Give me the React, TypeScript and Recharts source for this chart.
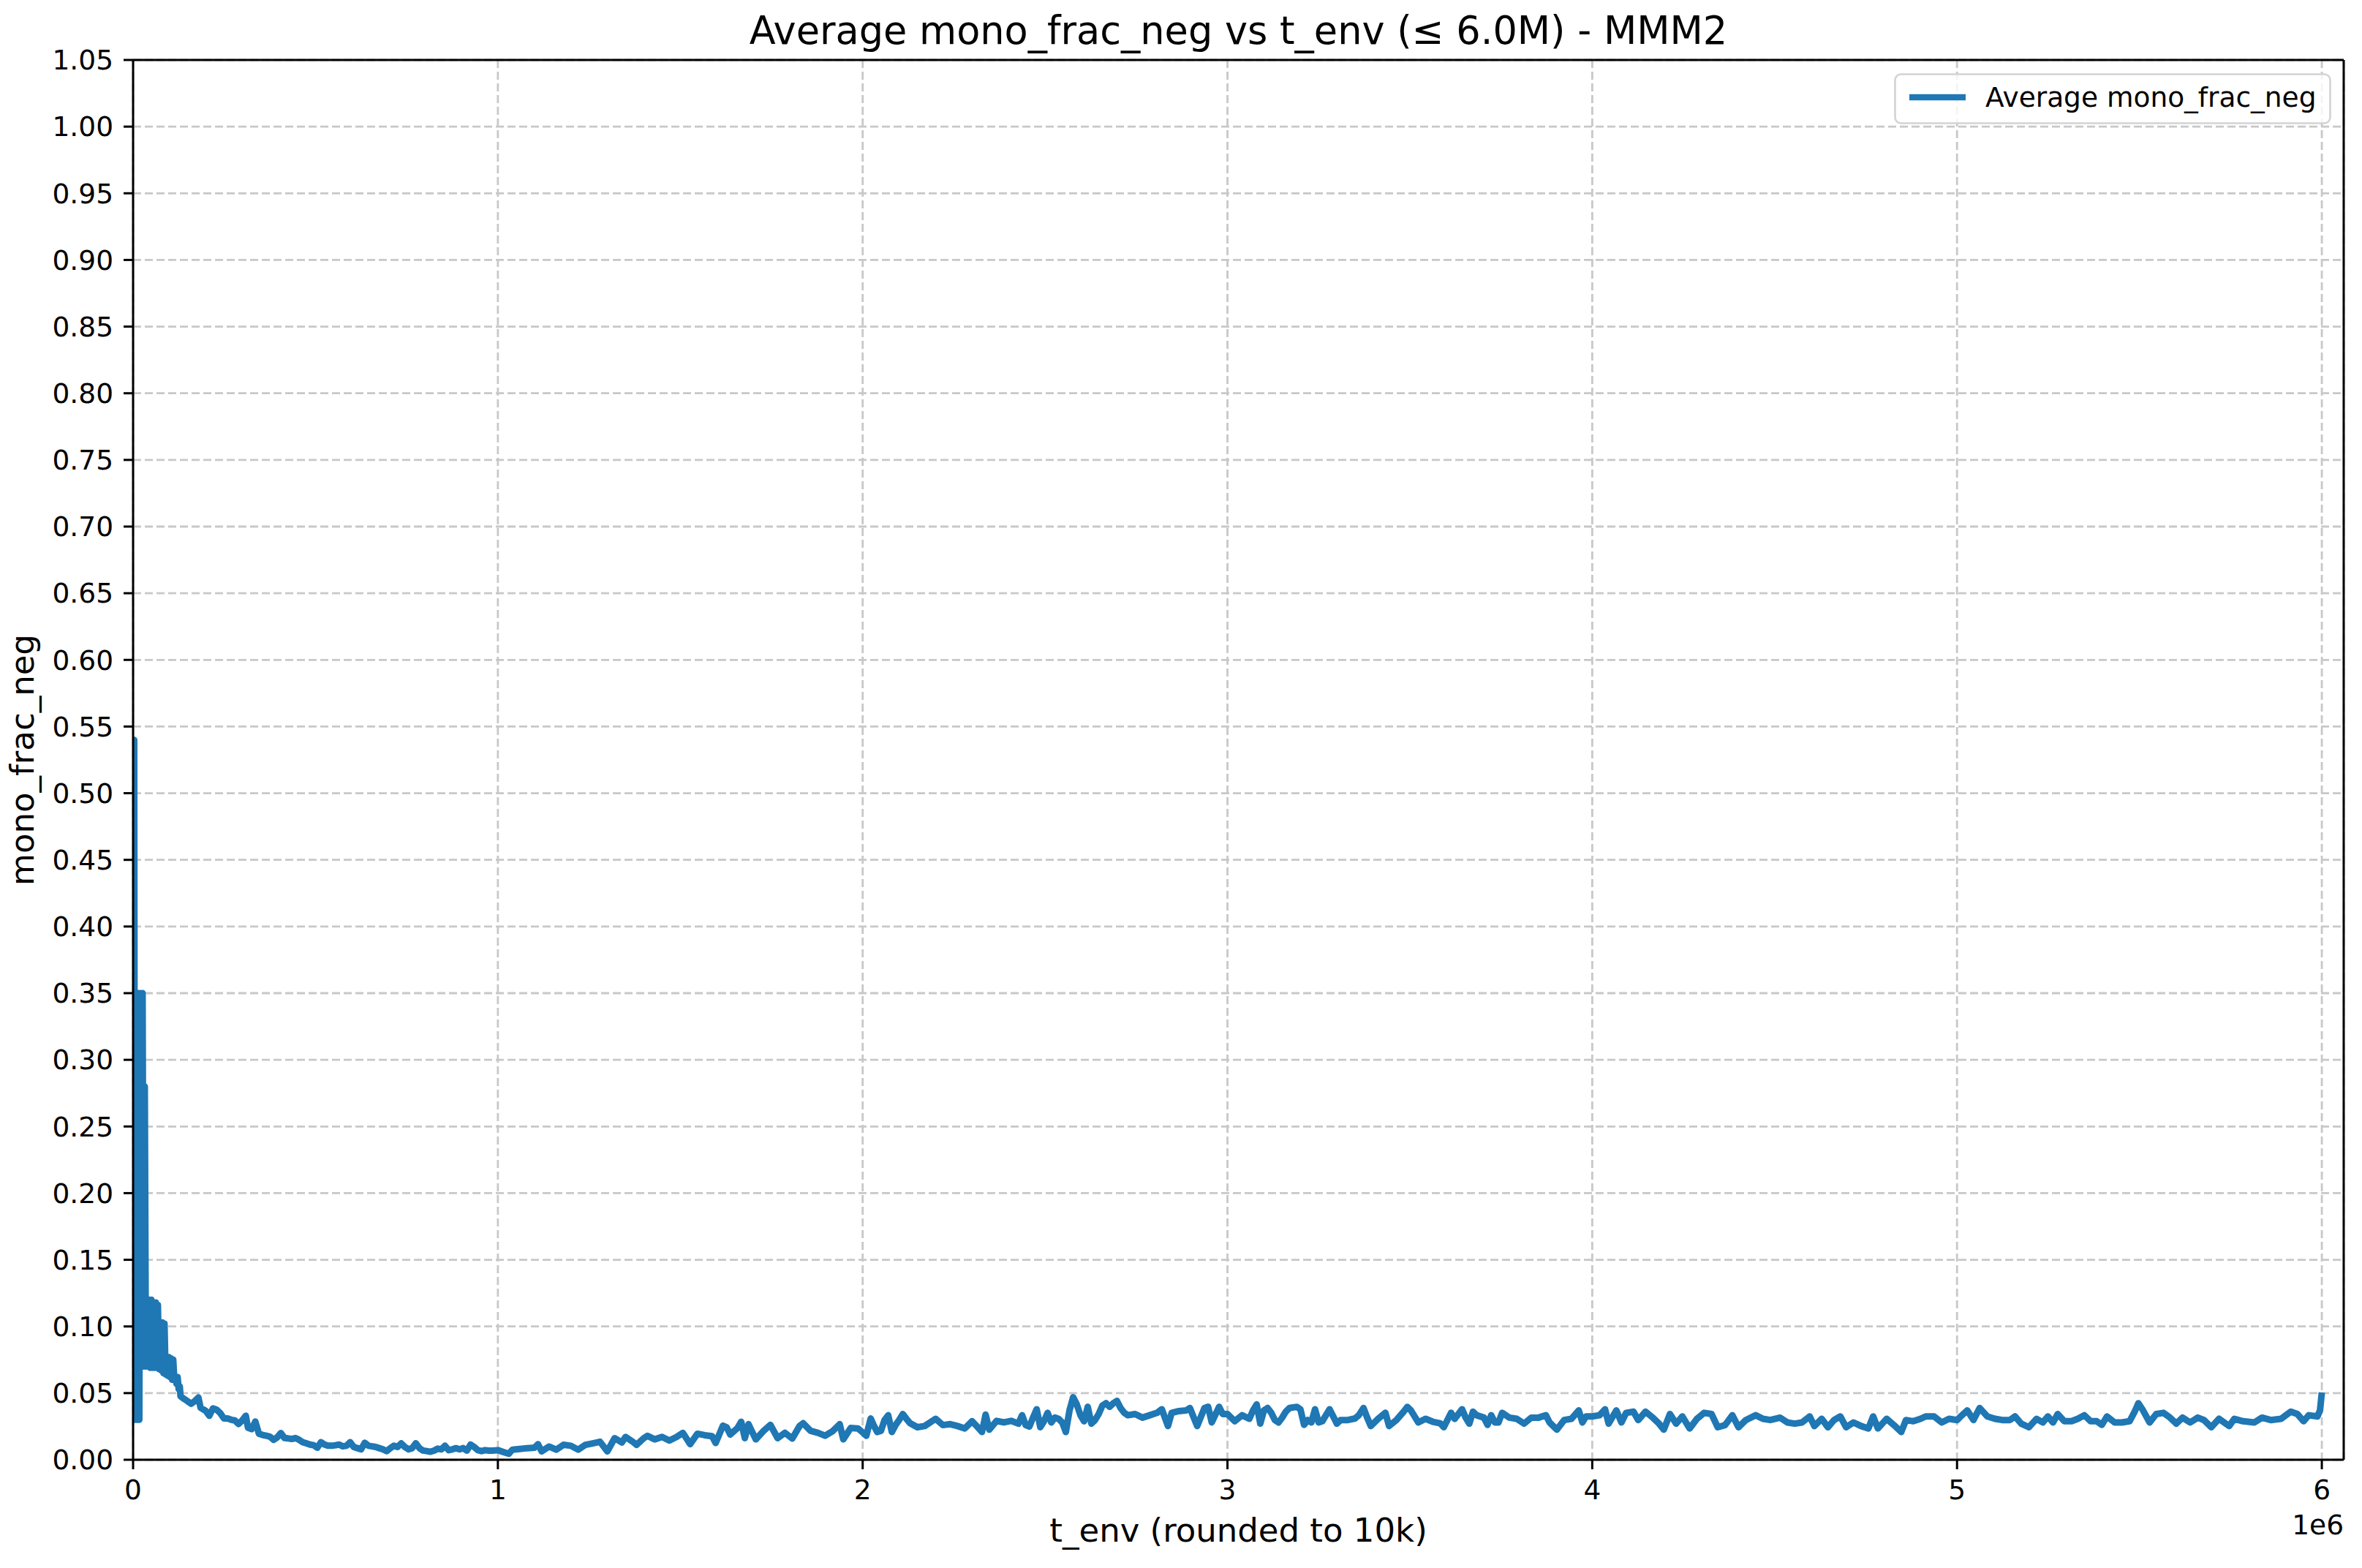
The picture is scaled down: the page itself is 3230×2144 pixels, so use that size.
import React from 'react';
import { LineChart, Line, XAxis, YAxis, CartesianGrid, Legend, ReferenceLine } from 'recharts';

// ---- data (t_env in thousands, value = average mono_frac_neg) ----
const tEnvEarlyK = [
  0, 3, 5, 8, 11, 14, 17, 20, 23, 26,
  29, 32, 35, 38, 41, 44, 47, 50, 53, 56,
  59, 62, 65, 68, 71, 74, 77, 80, 83, 86,
  89, 92, 95, 98, 101, 104, 107, 110, 113, 116,
  119, 122, 125, 128, 130,
];
const fracEarly = [
  0.03, 0.54, 0.03, 0.35, 0.03, 0.35, 0.03, 0.35, 0.07, 0.35,
  0.07, 0.28, 0.07, 0.12, 0.07, 0.12, 0.069, 0.12, 0.069, 0.118,
  0.069, 0.118, 0.069, 0.116, 0.068, 0.103, 0.067, 0.103, 0.065, 0.102,
  0.064, 0.077, 0.063, 0.077, 0.062, 0.076, 0.06, 0.075, 0.06, 0.062,
  0.057, 0.062, 0.053, 0.055, 0.0476,
];

const tEnvSeg0K = [
  139, 149, 159, 169, 179, 185, 199, 209, 219, 229,
  239, 249, 259, 269, 279, 289, 299, 309, 315, 325,
  335, 345, 355, 365, 375, 385, 395, 405, 415, 425,
  435, 445, 455, 465, 475, 485, 495, 505, 515, 525,
  535, 545, 555, 565, 575, 585, 595, 605, 615, 625,
  635, 645, 655, 665, 675, 685, 695, 705, 715, 725,
  735, 745, 755, 765, 775, 785, 795, 805, 815, 825,
  835, 845, 855, 865, 875, 885, 895, 905, 915, 925,
  935, 945, 955, 965, 975, 985,
];
const fracSeg0 = [
  0.0458, 0.044, 0.042, 0.044, 0.0467, 0.039, 0.0367, 0.033, 0.0385, 0.0376,
  0.035, 0.031, 0.031, 0.030, 0.0295, 0.0268, 0.0295, 0.033, 0.024, 0.023,
  0.0286, 0.0195, 0.0186, 0.018, 0.0174, 0.015, 0.0168, 0.020, 0.0163, 0.016,
  0.0156, 0.0163, 0.015, 0.0132, 0.0123, 0.0114, 0.0109, 0.009, 0.0132, 0.0114,
  0.0105, 0.0105, 0.0109, 0.0114, 0.0101, 0.0105, 0.0132, 0.0096, 0.0087, 0.0078,
  0.0127, 0.0105, 0.0101, 0.0096, 0.0087, 0.0078, 0.0065, 0.0087, 0.0105, 0.0096,
  0.0123, 0.0096, 0.0078, 0.0087, 0.0123, 0.0087, 0.0069, 0.0065, 0.006, 0.0069,
  0.0083, 0.0078, 0.0105, 0.0072, 0.0078, 0.0087, 0.0078, 0.0087, 0.0069, 0.0114,
  0.0096, 0.0072, 0.0065, 0.0072, 0.0069, 0.0069,
];

const tEnvSeg1K = [
  1000, 1020, 1030, 1040, 1060, 1080, 1100, 1110, 1120, 1140,
  1160, 1180, 1200, 1220, 1240, 1260, 1280, 1300, 1320, 1340,
  1350, 1370, 1380, 1400, 1410, 1430, 1450, 1470, 1490, 1507,
  1527, 1547, 1567, 1587, 1597, 1617, 1627, 1637, 1657, 1667,
  1677, 1687, 1707, 1727, 1747, 1767, 1787, 1807, 1827, 1837,
  1857, 1877, 1897, 1917, 1937, 1947, 1967, 1987, 2000, 2010,
];
const fracSeg1 = [
  0.0072, 0.0054, 0.0045, 0.0076, 0.0081, 0.0087, 0.009, 0.0117, 0.0063, 0.0099,
  0.0076, 0.0112, 0.0105, 0.0076, 0.0112, 0.0123, 0.0135, 0.0063, 0.0162, 0.013,
  0.0171, 0.0135, 0.0112, 0.0162, 0.018, 0.0153, 0.0171, 0.0144, 0.0171, 0.0202,
  0.0117, 0.0195, 0.0184, 0.0177, 0.0126, 0.0256, 0.0244, 0.019, 0.0238, 0.0285,
  0.0162, 0.0267, 0.0153, 0.0213, 0.0262, 0.0162, 0.0202, 0.0159, 0.0253, 0.0274,
  0.0217, 0.0202, 0.018, 0.0213, 0.0267, 0.0153, 0.0238, 0.0235, 0.0205, 0.018,
];

const tEnvSeg2K = [
  2022, 2030, 2040, 2050, 2060, 2070, 2080, 2090, 2100, 2110,
  2120, 2130, 2150, 2170, 2190, 2200, 2220, 2240, 2260, 2280,
  2300, 2310, 2327, 2337, 2347, 2367, 2387, 2407, 2427, 2437,
  2447, 2457, 2467, 2477, 2487, 2497, 2507, 2517, 2527, 2537,
  2547, 2557, 2567, 2577, 2587, 2597, 2607, 2617, 2627, 2637,
  2647, 2657, 2667, 2677, 2687, 2697, 2707, 2717, 2727, 2747,
  2767, 2787, 2807, 2820, 2837, 2847, 2867, 2887, 2897, 2917,
  2937, 2947, 2957, 2977, 2987,
];
const fracSeg2 = [
  0.031, 0.026, 0.0208, 0.0217, 0.0298, 0.0334, 0.0208, 0.026, 0.0298, 0.0343,
  0.0307, 0.0274, 0.0244, 0.0253, 0.0289, 0.0307, 0.026, 0.0267, 0.0253, 0.0235,
  0.0289, 0.026, 0.0208, 0.0339, 0.0226, 0.0292, 0.028, 0.0292, 0.0271, 0.0334,
  0.026, 0.0249, 0.0316, 0.0379, 0.0244, 0.0289, 0.0352, 0.028, 0.0316, 0.0307,
  0.028, 0.0208, 0.037, 0.0469, 0.0415, 0.0334, 0.0289, 0.0397, 0.0271, 0.0298,
  0.0343, 0.0406, 0.0424, 0.0397, 0.0424, 0.0442, 0.0388, 0.0352, 0.0334, 0.0343,
  0.0316, 0.0334, 0.0352, 0.0379, 0.0253, 0.0352, 0.0365, 0.037, 0.0388, 0.0253,
  0.0388, 0.0397, 0.028, 0.0397, 0.0343,
];

const tEnvSeg3K = [
  3000, 3020, 3040, 3060, 3070, 3080, 3090, 3100, 3110, 3120,
  3130, 3140, 3150, 3160, 3170, 3190, 3200, 3210, 3220, 3230,
  3240, 3250, 3260, 3270, 3280, 3290, 3300, 3310, 3330, 3350,
  3360, 3373, 3383, 3393, 3413, 3433, 3443, 3463, 3483, 3493,
  3503, 3513, 3523, 3543, 3563, 3583, 3593, 3613, 3623, 3643,
  3653, 3663, 3673, 3683, 3703, 3713, 3723, 3733, 3743, 3753,
  3773, 3793, 3813, 3833, 3853, 3873, 3883, 3903, 3923, 3943,
  3963, 3973, 3983,
];
const fracSeg3 = [
  0.0343, 0.0289, 0.0334, 0.0307, 0.037, 0.0415, 0.0271, 0.037, 0.0388, 0.0352,
  0.0298, 0.028, 0.0316, 0.0361, 0.0388, 0.0397, 0.0379, 0.0262, 0.0298, 0.028,
  0.0379, 0.028, 0.0289, 0.0334, 0.0379, 0.0325, 0.0271, 0.0298, 0.0298, 0.031,
  0.0334, 0.0388, 0.0316, 0.0253, 0.0307, 0.0352, 0.0253, 0.0298, 0.0361, 0.0397,
  0.037, 0.0325, 0.028, 0.0307, 0.0285, 0.0274, 0.0244, 0.0352, 0.0307, 0.0379,
  0.0316, 0.0271, 0.0361, 0.0334, 0.0316, 0.0262, 0.0334, 0.028, 0.028, 0.0352,
  0.0316, 0.0307, 0.0271, 0.0316, 0.0316, 0.0334, 0.028, 0.0226, 0.0298, 0.0307,
  0.037, 0.028, 0.0325,
];

const tEnvSeg4K = [
  4000, 4020, 4035, 4045, 4066, 4080, 4093, 4113, 4126, 4146,
  4166, 4183, 4196, 4213, 4230, 4247, 4267, 4287, 4307, 4327,
  4344, 4364, 4384, 4401, 4421, 4448, 4468, 4488, 4515, 4535,
  4555, 4575, 4596, 4609, 4629, 4646, 4663, 4680, 4696, 4716,
  4737, 4757, 4770, 4783, 4807, 4827, 4847, 4860, 4880, 4900,
  4914, 4937, 4958, 4978,
];
const fracSeg4 = [
  0.0325, 0.0334, 0.0379, 0.0271, 0.037, 0.028, 0.0352, 0.0361, 0.0298, 0.0361,
  0.0316, 0.0271, 0.0226, 0.0343, 0.0271, 0.0325, 0.0235, 0.0307, 0.0352, 0.0343,
  0.0244, 0.026, 0.0334, 0.0244, 0.0298, 0.0334, 0.0307, 0.0298, 0.0316, 0.028,
  0.0271, 0.028, 0.0325, 0.0253, 0.0307, 0.0244, 0.0298, 0.0325, 0.0244, 0.028,
  0.0253, 0.0235, 0.0325, 0.0235, 0.0307, 0.026, 0.0208, 0.0298, 0.0289, 0.0307,
  0.0325, 0.0325, 0.028, 0.0307,
];

const tEnvSeg5K = [
  5000, 5010, 5028, 5045, 5062, 5083, 5104, 5124, 5145, 5159,
  5176, 5197, 5218, 5235, 5249, 5263, 5276, 5294, 5314, 5331,
  5349, 5366, 5383, 5397, 5411, 5432, 5452, 5473, 5487, 5497,
  5508, 5528, 5546, 5566, 5584, 5601, 5618, 5639, 5660, 5677,
  5697, 5718, 5746, 5760, 5784, 5815, 5836, 5860, 5888, 5915,
  5933, 5950, 5964, 5988, 5995, 6000,
];
const fracSeg5 = [
  0.0298, 0.0325, 0.037, 0.0298, 0.0388, 0.0325, 0.0307, 0.0298, 0.0298, 0.0325,
  0.0271, 0.0244, 0.0307, 0.028, 0.0325, 0.028, 0.0343, 0.0289, 0.0289, 0.0307,
  0.0334, 0.0289, 0.0289, 0.0262, 0.0325, 0.028, 0.028, 0.0289, 0.0361, 0.0424,
  0.0379, 0.028, 0.0343, 0.0352, 0.0316, 0.0271, 0.0316, 0.028, 0.0316, 0.0298,
  0.0244, 0.0307, 0.0253, 0.0307, 0.0289, 0.028, 0.0316, 0.0298, 0.0307, 0.0361,
  0.0343, 0.0289, 0.0334, 0.0325, 0.037, 0.0505,
];

const xTicks = [0, 1000000, 2000000, 3000000, 4000000, 5000000, 6000000];
const yTicks = [
  0, 0.05, 0.1, 0.15, 0.2, 0.25, 0.3, 0.35, 0.4, 0.45, 0.5,
  0.55, 0.6, 0.65, 0.7, 0.75, 0.8, 0.85, 0.9, 0.95, 1.0, 1.05,
];
const xDomain = [0, 6060000];
const yDomain = [0, 1.05];

const seriesName = 'Average mono_frac_neg';
const titleText = 'Average mono_frac_neg vs t_env (\u2264 6.0M) - MMM2';
const xLabel = 't_env (rounded to 10k)';
const yLabel = 'mono_frac_neg';
const offsetText = '1e6';

const segT = [tEnvEarlyK, tEnvSeg0K, tEnvSeg1K, tEnvSeg2K, tEnvSeg3K, tEnvSeg4K, tEnvSeg5K];
const segV = [fracEarly, fracSeg0, fracSeg1, fracSeg2, fracSeg3, fracSeg4, fracSeg5];

const data: { t: number; v: number }[] = [];
segT.forEach((ts, s) => {
  const vs = segV[s];
  const n = Math.min(ts.length, vs.length);
  for (let i = 0; i < n; i++) data.push({ t: ts[i] * 1000, v: vs[i] });
});

const FONT = "'DejaVu Sans', 'Liberation Sans', sans-serif";
const BLUE = '#1f77b4';
const W = 3230;
const H = 2144;

const renderLegend = (props: any) => {
  const item = props && props.payload && props.payload[0];
  const label = (item && item.value) || seriesName;
  const color = (item && item.color) || BLUE;
  return (
    <svg width={598} height={70} style={{ display: 'block', overflow: 'visible' }}>
      <rect x={1.5} y={1.5} width={595} height={67} rx={8} ry={8} fill="#ffffff" fillOpacity={0.8} stroke="#d3d3d3" strokeWidth={2.6} />
      <line x1={21} x2={98} y1={33} y2={33} stroke={color} strokeWidth={8.5} />
      <text x={125} y={46} fontSize={37.5} fontFamily={FONT} fill="#000">{label}</text>
    </svg>
  );
};

export default function App() {
  return (
    <div style={{ position: 'absolute', left: 0, top: 0, width: W, height: H, background: '#fff', fontFamily: FONT }}>
      <LineChart width={W} height={H} data={data} margin={{ top: 82, right: 25, bottom: 0, left: 0 }}>
        <CartesianGrid stroke="#c8c8c8" strokeWidth={2.8} strokeDasharray="11 5" />
        <XAxis
          dataKey="t"
          type="number"
          domain={xDomain}
          ticks={xTicks}
          interval={0}
          allowDataOverflow
          height={148}
          tickFormatter={(v: number) => String(v / 1000000)}
          tick={{ fontSize: 37.5, fill: '#000', fontFamily: FONT }}
          tickSize={13}
          tickMargin={14}
          axisLine={{ stroke: '#000', strokeWidth: 3 }}
          tickLine={{ stroke: '#000', strokeWidth: 3 }}
          label={{
            value: xLabel,
            content: () => (
              <text x={1693.5} y={2108} textAnchor="middle" fontSize={45} fontFamily={FONT} fill="#000">{xLabel}</text>
            ),
          }}
        />
        <YAxis
          type="number"
          domain={yDomain}
          ticks={yTicks}
          interval={0}
          allowDataOverflow
          width={182}
          tickFormatter={(v: number) => v.toFixed(2)}
          tick={{ fontSize: 37.5, fill: '#000', fontFamily: FONT }}
          tickSize={13}
          tickMargin={14}
          axisLine={{ stroke: '#000', strokeWidth: 3 }}
          tickLine={{ stroke: '#000', strokeWidth: 3 }}
          label={{
            value: yLabel,
            content: () => (
              <text x={46} y={1039} transform="rotate(-90 46 1039)" textAnchor="middle" fontSize={45} fontFamily={FONT} fill="#000">{yLabel}</text>
            ),
          }}
        />
        <Legend
          layout="horizontal"
          verticalAlign="middle"
          align="center"
          wrapperStyle={{ left: 2590, top: 100, width: 598, height: 70 }}
          content={renderLegend}
        />
        <Line
          type="linear"
          dataKey="v"
          name={seriesName}
          stroke={BLUE}
          strokeWidth={9}
          strokeLinejoin="round"
          dot={false}
          activeDot={false}
          isAnimationActive={false}
        />
        <ReferenceLine y={yDomain[1]} stroke="#000" strokeWidth={3} ifOverflow="visible" />
        <ReferenceLine x={xDomain[1]} stroke="#000" strokeWidth={3} ifOverflow="visible" />
      </LineChart>
      <svg width={W} height={H} style={{ position: 'absolute', left: 0, top: 0, pointerEvents: 'none' }}>
        <text x={1693.5} y={59.5} textAnchor="middle" fontSize={52.5} fontFamily={FONT} fill="#000">{titleText}</text>
        <text x={3205} y={2098} textAnchor="end" fontSize={37.5} fontFamily={FONT} fill="#000">{offsetText}</text>
      </svg>
    </div>
  );
}
